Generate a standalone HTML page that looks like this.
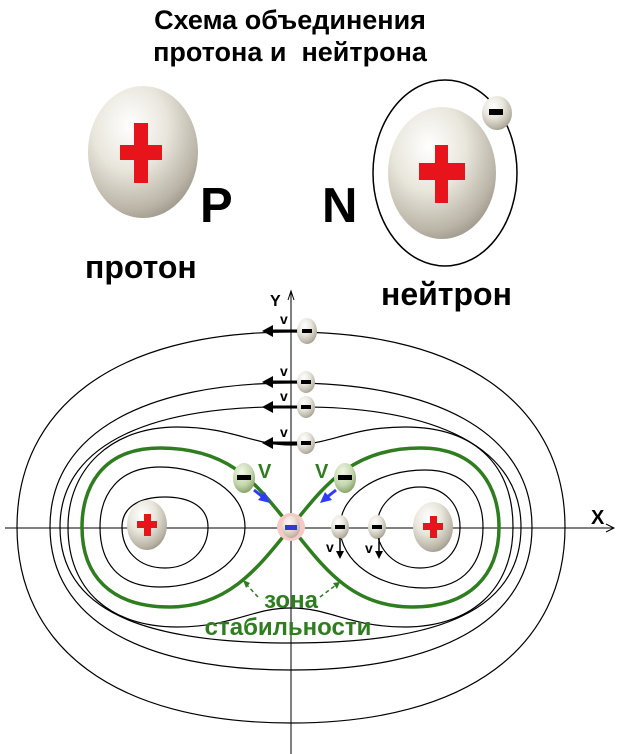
<!DOCTYPE html>
<html><head><meta charset="utf-8"><style>
html,body{margin:0;padding:0;background:#fff;}
svg{display:block;font-family:"Liberation Sans",sans-serif;}
</style></head><body>
<svg width="642" height="754" viewBox="0 0 642 754" xmlns="http://www.w3.org/2000/svg">
<defs>
<radialGradient id="ball" cx="0.38" cy="0.3" r="0.75">
<stop offset="0" stop-color="#ffffff"/><stop offset="0.45" stop-color="#e9e6dc"/><stop offset="0.85" stop-color="#b9b4a6"/><stop offset="1" stop-color="#9c978a"/>
</radialGradient>
<radialGradient id="gball" cx="0.4" cy="0.3" r="0.75">
<stop offset="0" stop-color="#f3f8ea"/><stop offset="0.6" stop-color="#c4d6ac"/><stop offset="1" stop-color="#7f9c62"/>
</radialGradient>
</defs>
<text x="290" y="29" font-size="27" font-weight="bold" text-anchor="middle">Схема объединения</text>
<text x="290" y="61" font-size="27" font-weight="bold" text-anchor="middle" xml:space="preserve">протона и  нейтрона</text>
<ellipse cx="143" cy="152" rx="55" ry="66" fill="url(#ball)"/>
<rect x="120" y="145" width="42" height="15" fill="#e8141c"/><rect x="134" y="123" width="14" height="60" fill="#e8141c"/>
<text x="200" y="222" font-size="49" font-weight="bold">P</text>
<text x="322" y="222" font-size="49" font-weight="bold">N</text>
<ellipse cx="445" cy="173" rx="72" ry="93" fill="none" stroke="#000" stroke-width="1.5"/>
<ellipse cx="442" cy="173" rx="54" ry="66" fill="url(#ball)"/>
<rect x="419" y="163" width="46" height="17" fill="#e8141c"/><rect x="435" y="145" width="13" height="58" fill="#e8141c"/>
<ellipse cx="497" cy="113" rx="15" ry="17" fill="url(#ball)"/>
<rect x="489" y="109" width="14" height="6" fill="#000"/>
<text x="85" y="278" font-size="32" font-weight="bold">протон</text>
<text x="381" y="305" font-size="32" font-weight="bold">нейтрон</text>
<!-- axes -->
<line x1="5" y1="528" x2="614" y2="528" stroke="#000" stroke-width="1"/>
<path d="M606,524 L614,528 L606,532" fill="none" stroke="#000"/>
<line x1="291" y1="292" x2="291" y2="754" stroke="#000" stroke-width="1"/>
<path d="M288,300 L291,291 L294,300" fill="none" stroke="#000"/>
<text x="270" y="306" font-size="16" font-weight="bold">Y</text>
<text x="591" y="524" font-size="20" font-weight="bold">X</text>
<!-- contours -->
<g fill="none" stroke="#000" stroke-width="1.2">
<path d="M291 332 C470 332 565 410 565 527 C565 645 470 723 291 723 C112 723 17 645 17 527 C17 410 112 332 291 332Z"/>
<path d="M291 383 C430 383 532 430 532 527 C532 620 440 670 291 670 C142 670 50 620 50 527 C50 430 150 383 291 383Z"/>
<path d="M291 407 C420 405 521 440 521 527 C521 610 440 643 291 643 C142 643 60 610 60 527 C60 440 160 405 291 407Z"/>
<path d="M291 445 C330 445 350 427 405 427 C480 427 513 470 513 527 C513 590 470 627 405 627 C350 627 330 608 291 608 C252 608 232 627 177 627 C110 627 68 590 68 527 C68 470 110 427 177 427 C232 427 252 445 291 445Z"/>
<path d="M245 527 C245 492 205 467 160 467 C118 467 100 495 100 527 C100 562 118 587 160 587 C205 587 245 562 245 527Z"/>
<path d="M208 527 C208 507 190 497 165 497 C138 497 122 508 122 527 C122 550 138 568 165 568 C190 568 208 550 208 527Z"/>
<path d="M340 527 C340 495 378 470 425 470 C465 470 483 495 483 527 C483 562 465 588 425 588 C378 588 340 562 340 527Z"/>
<path d="M377 527 C377 505 395 487 420 487 C445 487 460 505 460 527 C460 550 445 568 420 568 C395 568 377 550 377 527Z"/>
</g>
<path d="M291 527 C260 490 235 448 160 448 C100 448 82 490 82 527 C82 575 110 607 170 607 C230 607 260 565 291 527 C322 489 350 448 420 448 C480 448 499 490 499 527 C499 575 470 607 412 607 C350 607 322 565 291 527Z" fill="none" stroke="#2e7d1e" stroke-width="3.5"/>
<!-- central charges -->
<ellipse cx="147" cy="525" rx="20" ry="25" fill="url(#ball)"/>
<rect x="137" y="521" width="20" height="7" fill="#e8141c"/><rect x="144" y="514" width="7" height="22" fill="#e8141c"/>
<ellipse cx="433" cy="527" rx="20" ry="25" fill="url(#ball)"/>
<rect x="423" y="523" width="20" height="7" fill="#e8141c"/><rect x="430" y="516" width="7" height="22" fill="#e8141c"/>
<!-- electrons on Y axis -->
<g>
<g stroke="#000" stroke-width="3"><line x1="300" y1="331" x2="270" y2="331"/><line x1="300" y1="382" x2="270" y2="382"/><line x1="300" y1="407" x2="270" y2="407"/><line x1="300" y1="443" x2="270" y2="443"/></g>
<g fill="#000"><path d="M262,331 L273,325 L273,337Z"/><path d="M262,382 L273,376 L273,388Z"/><path d="M262,407 L273,401 L273,413Z"/><path d="M262,443 L273,437 L273,449Z"/></g>
<g font-size="14" font-weight="bold"><text x="280" y="324">v</text><text x="280" y="376">v</text><text x="280" y="401">v</text><text x="280" y="437">v</text></g>
<ellipse cx="307" cy="331" rx="10" ry="13" fill="url(#ball)"/><rect x="302" y="329" width="10" height="4"/>
<ellipse cx="306" cy="382" rx="9" ry="11" fill="url(#ball)"/><rect x="301" y="380" width="10" height="4"/>
<ellipse cx="306" cy="407" rx="9" ry="11" fill="url(#ball)"/><rect x="301" y="405" width="10" height="4"/>
<ellipse cx="306" cy="443" rx="9" ry="11" fill="url(#ball)"/><rect x="301" y="441" width="10" height="4"/>
</g>
<!-- green electrons -->
<ellipse cx="244" cy="478" rx="11" ry="15" fill="url(#gball)"/><rect x="237" y="475" width="14" height="5"/>
<ellipse cx="345" cy="478" rx="11" ry="15" fill="url(#gball)"/><rect x="338" y="475" width="14" height="5"/>
<text x="258" y="478" font-size="20" font-weight="bold" fill="#2e7d1e">V</text>
<text x="315" y="478" font-size="20" font-weight="bold" fill="#2e7d1e">V</text>
<line x1="254" y1="490" x2="264" y2="498" stroke="#2e3bff" stroke-width="3"/><path d="M270,503 L258,500 L265,492Z" fill="#2e3bff"/>
<line x1="336" y1="490" x2="326" y2="498" stroke="#2e3bff" stroke-width="3"/><path d="M320,503 L332,500 L325,492Z" fill="#2e3bff"/>
<circle cx="291" cy="527" r="14" fill="#f7c9c4"/>
<ellipse cx="291" cy="527" rx="9" ry="11" fill="url(#ball)" opacity="0.8"/>
<rect x="285" y="525" width="12" height="5" fill="#2a3bd8"/>
<!-- electrons going down -->
<ellipse cx="340" cy="527" rx="9" ry="12" fill="url(#ball)"/><rect x="335" y="525" width="10" height="4"/>
<ellipse cx="377" cy="527" rx="9" ry="12" fill="url(#ball)"/><rect x="372" y="525" width="10" height="4"/>
<line x1="340" y1="538" x2="340" y2="552" stroke="#000" stroke-width="1.5"/><path d="M336,551 L340,559 L344,551Z"/>
<line x1="379" y1="538" x2="379" y2="552" stroke="#000" stroke-width="1.5"/><path d="M375,551 L379,559 L383,551Z"/>
<text x="326" y="552" font-size="14" font-weight="bold">v</text>
<text x="365" y="553" font-size="14" font-weight="bold">v</text>
<!-- zone label -->
<g stroke="#2e7d1e" stroke-width="1.5" stroke-dasharray="4,3" fill="none"><path d="M258,597 L246,584"/><path d="M320,597 L336,585"/></g>
<path d="M243,580 L250,583 L246,588Z" fill="#2e7d1e"/><path d="M340,582 L333,583 L337,589Z" fill="#2e7d1e"/>
<text x="291" y="608" font-size="24" font-weight="bold" fill="#2e7d1e" text-anchor="middle">зона</text>
<text x="288" y="635" font-size="24" font-weight="bold" fill="#2e7d1e" text-anchor="middle">стабильности</text>
</svg>
</body></html>
